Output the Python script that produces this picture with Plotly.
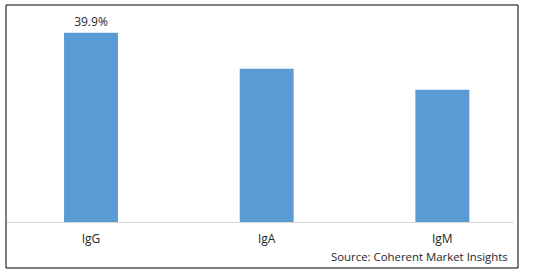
import plotly.graph_objects as go

categories = ["IgG", "IgA", "IgM"]
values = [39.9, 32.3, 27.9]
labels = ["39.9%", "", ""]
source = "Source: Coherent Market Insights"

fig = go.Figure(go.Bar(
    x=categories, y=values, text=labels, textposition="outside",
    marker=dict(color="#5B9BD5", line=dict(width=0)),
    width=0.307, cliponaxis=False,
    textfont=dict(family="Open Sans", size=12, color="#262626"),
))

fig.update_layout(
    width=538, height=272,
    margin=dict(l=6, r=24, t=9, b=50),
    paper_bgcolor="white", plot_bgcolor="white",
    showlegend=False,
    font=dict(family="Open Sans", size=12, color="#262626"),
    xaxis=dict(range=[-0.484, 2.408], showgrid=False, showline=True,
               linecolor="#d9d9d9", linewidth=1, ticks="outside",
               ticklen=6, tickcolor="rgba(0,0,0,0)",
               tickfont=dict(family="Open Sans", size=12, color="#262626")),
    yaxis=dict(range=[0, 44.9], visible=False),
    shapes=[dict(type="rect", xref="paper", yref="paper",
                 x0=0, x1=1.0079, y0=-0.216, y1=1.0188,
                 line=dict(color="black", width=1))],
    annotations=[dict(text=source, xref="paper", yref="paper",
                      x=0.992, y=-0.164, xanchor="right", yanchor="middle",
                      showarrow=False,
                      font=dict(family="Open Sans", size=11.4, color="#262626"))],
)

fig.write_html("out.html")
